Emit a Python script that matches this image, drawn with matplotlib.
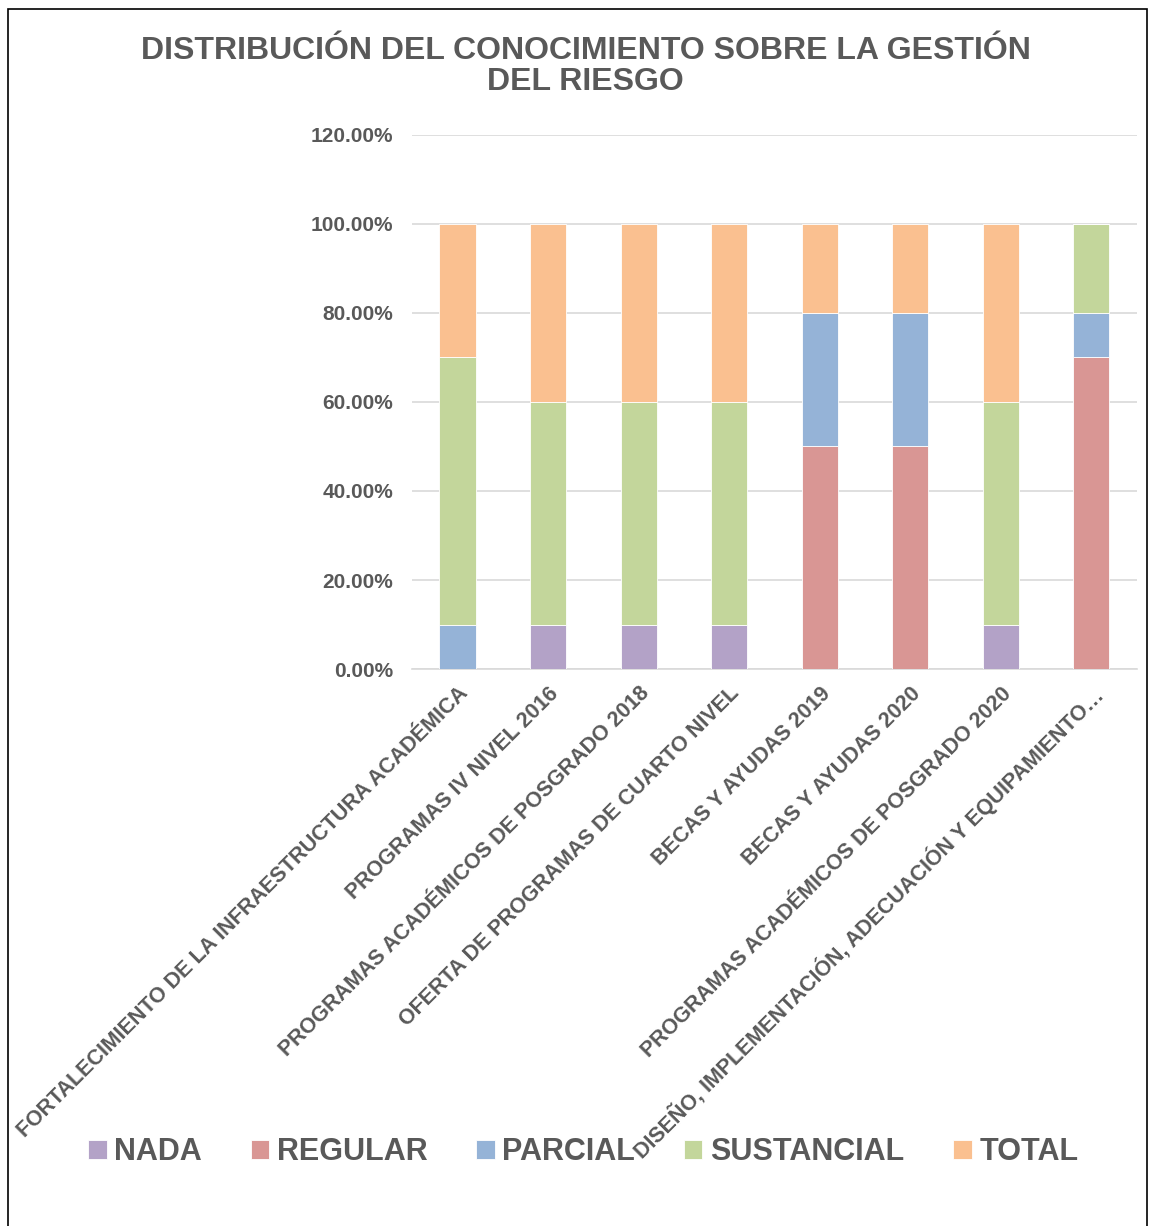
import matplotlib.pyplot as plt
import numpy as np
from matplotlib.patches import Rectangle

plt.rcParams['font.family'] = ['Liberation Sans', 'DejaVu Sans']

# datos
categorias = [
    "FORTALECIMIENTO DE LA INFRAESTRUCTURA ACADÉMICA",
    "PROGRAMAS IV NIVEL 2016",
    "PROGRAMAS ACADÉMICOS DE POSGRADO 2018",
    "OFERTA DE PROGRAMAS DE CUARTO NIVEL",
    "BECAS Y AYUDAS 2019",
    "BECAS Y AYUDAS 2020",
    "PROGRAMAS ACADÉMICOS DE POSGRADO 2020",
    "DISEÑO, IMPLEMENTACIÓN, ADECUACIÓN Y EQUIPAMIENTO…",
]
nada = [0.0, 0.10, 0.10, 0.10, 0.0, 0.0, 0.10, 0.0]
regular = [0.0, 0.0, 0.0, 0.0, 0.50, 0.50, 0.0, 0.70]
parcial = [0.10, 0.0, 0.0, 0.0, 0.30, 0.30, 0.0, 0.10]
sustancial = [0.60, 0.50, 0.50, 0.50, 0.0, 0.0, 0.50, 0.20]
total = [0.30, 0.40, 0.40, 0.40, 0.20, 0.20, 0.40, 0.0]

series = ["NADA", "REGULAR", "PARCIAL", "SUSTANCIAL", "TOTAL"]
valores = [nada, regular, parcial, sustancial, total]
colores = ["#B3A2C7", "#D99694", "#95B3D7", "#C3D69B", "#FAC090"]

gris = "#595959"

fig = plt.figure(figsize=(11.55, 12.26), dpi=100)
ax = fig.add_axes([0.357, 0.4543, 0.627, 0.4357])

x = np.arange(len(categorias))
base = np.zeros(len(categorias))
for nombre, vals, col in zip(series, valores, colores):
    ax.bar(x, vals, width=0.4, bottom=base, color=col, label=nombre,
           edgecolor="white", linewidth=0.6, zorder=3)
    base += np.array(vals)

ax.set_ylim(0, 1.2)
ax.set_xlim(-0.5, len(categorias) - 0.5)
ticks = np.arange(0, 1.21, 0.2)
ax.set_yticks(ticks)
ax.set_yticklabels([f"{t*100:.2f}%" for t in ticks], fontsize=15,
                   fontweight="bold", color=gris)
ax.set_xticks(x)
ax.set_xticklabels(categorias, rotation=45, ha="right", rotation_mode="anchor",
                   fontsize=15.5, fontweight="bold", color=gris)
ax.tick_params(axis="both", length=0, pad=14)
ax.tick_params(axis="x", pad=10)
ax.grid(axis="y", color="#D9D9D9", linewidth=1.2, zorder=0)
for s in ["top", "right", "left"]:
    ax.spines[s].set_visible(False)
ax.spines["bottom"].set_color("#D9D9D9")
ax.spines["bottom"].set_linewidth(1.2)

fig.text(0.507, 0.946, "DISTRIBUCIÓN DEL CONOCIMIENTO SOBRE LA GESTIÓN\nDEL RIESGO",
         ha="center", va="center", fontsize=23, fontweight="bold", color=gris,
         linespacing=1.05)

leg = fig.legend(loc="center", bbox_to_anchor=(0.505, 0.06), ncol=5, frameon=False,
                 prop={"weight": "bold", "size": 22},
                 handlelength=0.6, handleheight=0.6, handletextpad=0.25,
                 columnspacing=1.6, labelcolor=gris)

# marco
fig.patches.append(Rectangle((0.007, -0.01), 0.986, 1.003, transform=fig.transFigure,
                             fill=False, edgecolor="black", linewidth=1.2))

fig.savefig("out.png", dpi=100)
